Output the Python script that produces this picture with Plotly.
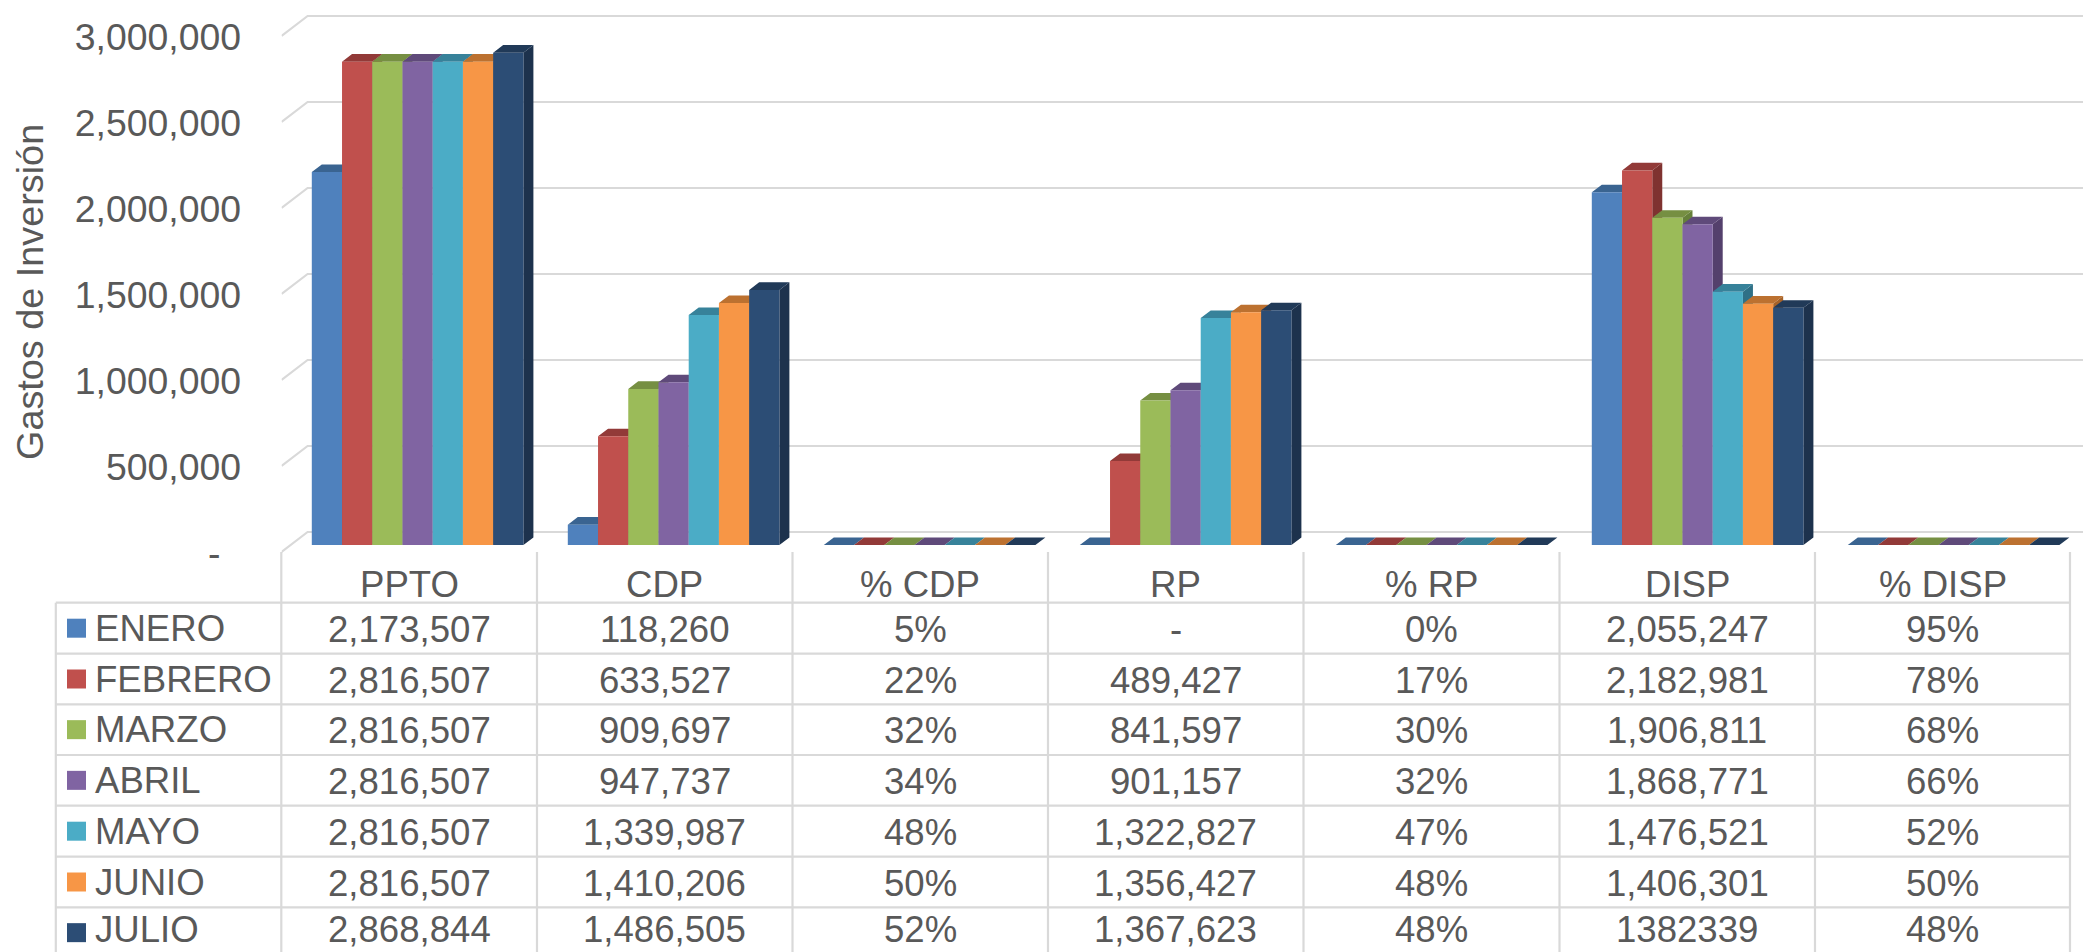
import plotly.graph_objects as go

# ---------- data ----------
months = ["ENERO", "FEBRERO", "MARZO", "ABRIL", "MAYO", "JUNIO", "JULIO"]
categories = ["PPTO", "CDP", "% CDP", "RP", "% RP", "DISP", "% DISP"]
ppto = [2173507, 2816507, 2816507, 2816507, 2816507, 2816507, 2868844]
cdp = [118260, 633527, 909697, 947737, 1339987, 1410206, 1486505]
pct_cdp = [0.05, 0.22, 0.32, 0.34, 0.48, 0.50, 0.52]
rp = [0, 489427, 841597, 901157, 1322827, 1356427, 1367623]
pct_rp = [0.0, 0.17, 0.30, 0.32, 0.47, 0.48, 0.48]
disp = [2055247, 2182981, 1906811, 1868771, 1476521, 1406301, 1382339]
pct_disp = [0.95, 0.78, 0.68, 0.66, 0.52, 0.50, 0.48]
columns = [ppto, cdp, pct_cdp, rp, pct_rp, disp, pct_disp]
is_pct = [False, False, True, False, True, False, True]
tick_values = [0, 500000, 1000000, 1500000, 2000000, 2500000, 3000000]
tick_labels = ["-\u00a0\u00a0", "500,000", "1,000,000", "1,500,000", "2,000,000", "2,500,000", "3,000,000"]
axis_title = "Gastos de Inversión"
front_colors = ["#4F81BD", "#C0504D", "#9BBB59", "#8064A2", "#4BACC6", "#F79646", "#2C4D75"]
top_colors = ["#3A6491", "#923A38", "#768F42", "#5F4A7A", "#37829A", "#BC7130", "#213A58"]
side_colors = ["#325680", "#7F3230", "#66803A", "#54406C", "#2F7086", "#A66228", "#1D324D"]

# ---------- page geometry ----------
W, H = 2083, 952
TXT = "#595959"
LINE = "#D9D9D9"
FONT = "Liberation Sans"
FS = 36.6
PLOT_L, PLOT_B = 281.6, 600
BASE_PY = 545
BAR_SCALE = 171.6 / 1e6   # px per unit for the columns
WALL_SCALE = 172 / 1e6    # px per unit for walls and tick labels
GROUP0_PX, GROUP_PITCH = 417.6, 256.0
GROUP_W = 211.6 / GROUP_PITCH
DEPTH_X, DEPTH_Y = 10 / GROUP_PITCH, 7.6 / BAR_SCALE


def xr():
    return [(PLOT_L - GROUP0_PX) / GROUP_PITCH, (W - GROUP0_PX) / GROUP_PITCH]


def yr(base, scale):
    return [(base - PLOT_B) / scale, base / scale]


fig = go.Figure()

# wall grid: back-wall lines and the left-wall diagonals
LABEL_BASE = 552.5
gx, gy = [], []
back_x = (307.6 - GROUP0_PX) / GROUP_PITCH
front_x = xr()[0]
for t in tick_values:
    back_y = t + 20.5 / WALL_SCALE
    gx += [front_x, back_x, xr()[1], None]
    gy += [t + 0.5 / WALL_SCALE, back_y, back_y, None]
fig.add_trace(go.Scatter(x=gx, y=gy, mode="lines", line=dict(color=LINE, width=2.2),
                         hoverinfo="skip", showlegend=False, xaxis="x", yaxis="y"))

# depth faces of the columns, computed from the values, painted left to right
bar_w = GROUP_W / 7
for k, m in enumerate(months):
    tx, ty, sx, sy = [], [], [], []
    for i, col in enumerate(columns):
        v = col[k]
        l = i - GROUP_W / 2 + k * bar_w
        r = l + bar_w
        tx += [l, r, r + DEPTH_X, l + DEPTH_X, l, None]
        ty += [v, v, v + DEPTH_Y, v + DEPTH_Y, v, None]
        sx += [r, r + DEPTH_X, r + DEPTH_X, r, r, None]
        sy += [v, v + DEPTH_Y, DEPTH_Y, 0, v, None]
    fig.add_trace(go.Scatter(x=sx, y=sy, mode="lines", fill="toself", fillcolor=side_colors[k],
                             line=dict(width=0), hoverinfo="skip", showlegend=False,
                             xaxis="x2", yaxis="y2"))
    fig.add_trace(go.Scatter(x=tx, y=ty, mode="lines", fill="toself", fillcolor=top_colors[k],
                             line=dict(width=0), hoverinfo="skip", showlegend=False,
                             xaxis="x2", yaxis="y2"))

# front faces
for k, m in enumerate(months):
    fig.add_trace(go.Bar(x=categories, y=[c[k] for c in columns], name=m,
                         marker=dict(color=front_colors[k], line=dict(width=0)),
                         showlegend=False, xaxis="x3", yaxis="y3"))

# ---------- data table ----------
col_px = [281.3, 537, 792.5, 1048, 1303.5, 1559.5, 1815, 2070]
row_px = [602.7, 653.7, 704.3, 755, 805.7, 856.7, 907.3, 958]
LEG_L = 55.8
HEAD_TOP = 552


def px(x):
    return x / W


def py(y):
    return 1 - y / H


shapes = []


def seg(x0, y0, x1, y1):
    shapes.append(dict(type="line", xref="paper", yref="paper", x0=px(x0), y0=py(y0), x1=px(x1), y1=py(y1),
                       line=dict(color=LINE, width=2.2)))


for x in col_px:
    seg(x, HEAD_TOP, x, H)
seg(LEG_L, row_px[0], LEG_L, H)
for y in row_px[:-1]:
    seg(LEG_L, y, col_px[-1], y)

anns = []


def text(x, y, s, anchor="center", **kw):
    anns.append(dict(xref="paper", yref="paper", x=px(x), y=py(y), text=s, showarrow=False,
                     xanchor=anchor, yanchor="middle", font=dict(family=FONT, size=kw.pop("size", FS), color=TXT), **kw))


text(30, 292, axis_title, size=37.8, textangle=-90)
for i, c in enumerate(categories):
    text((col_px[i] + col_px[i + 1]) / 2, 584.5, c)
for r, m in enumerate(months):
    cy = (row_px[r] + row_px[r + 1]) / 2
    # the last row sits against the page edge; keep its text inside the page
    ty_row = min(cy + 1, H - 22.5)
    text(93, min(cy, H - 22.5), m, "left")
    shapes.append(dict(type="rect", xref="paper", yref="paper", x0=px(67), x1=px(86),
                       y0=py(cy - 9.5), y1=py(cy + 9.5), line=dict(width=0), fillcolor=front_colors[r]))
    for i, col in enumerate(columns):
        v = col[r]
        if is_pct[i]:
            s = f"{round(v * 100)}%"
        elif v == 0:
            s = "-"
        elif categories[i] == "DISP" and months[r] == "JULIO":
            s = str(v)
        else:
            s = f"{v:,}"
        text((col_px[i] + col_px[i + 1]) / 2, ty_row, s)

fig.update_layout(
    width=W, height=H, margin=dict(l=0, r=0, t=0, b=0, pad=0, autoexpand=False),
    paper_bgcolor="white", plot_bgcolor="rgba(0,0,0,0)",
    barmode="group", bargap=1 - GROUP_W, bargroupgap=0,
    shapes=shapes, annotations=anns,
    xaxis=dict(domain=[PLOT_L / W, 1], range=xr(), visible=False),
    xaxis2=dict(overlaying="x", range=xr(), visible=False),
    xaxis3=dict(overlaying="x", range=xr(), visible=False, type="category", categoryorder="array",
                categoryarray=categories),
    yaxis=dict(domain=[1 - PLOT_B / H, 1], range=yr(LABEL_BASE, WALL_SCALE), anchor="x", tickmode="array",
               tickvals=tick_values, ticktext=tick_labels, ticks="outside", ticklen=32,
               tickcolor="rgba(0,0,0,0)", showgrid=False, zeroline=False, showline=False,
               tickfont=dict(family=FONT, size=37.4, color=TXT)),
    yaxis2=dict(overlaying="y", anchor="x2", range=yr(BASE_PY, BAR_SCALE), visible=False),
    yaxis3=dict(overlaying="y", anchor="x3", range=yr(BASE_PY, BAR_SCALE), visible=False),
)

fig.write_html("out.html", config={"displayModeBar": False},
               post_script="document.body.style.margin='0';document.body.style.overflow='hidden';")
